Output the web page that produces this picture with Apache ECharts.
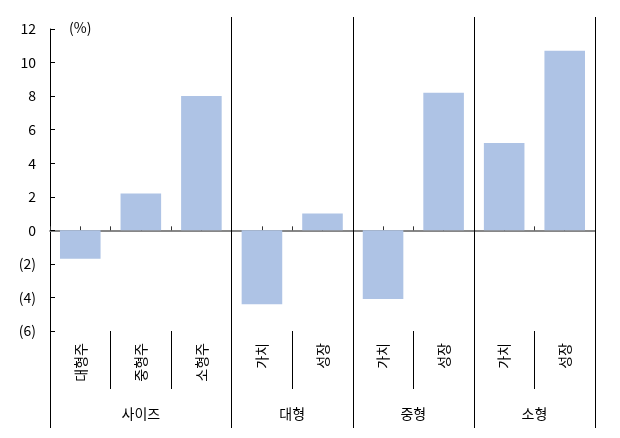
<!DOCTYPE html>
<html><head><meta charset="utf-8">
<script src="https://cdn.jsdelivr.net/npm/echarts@6/dist/echarts.min.js"></script>
<style>html,body{margin:0;padding:0;background:#fff}#c{width:620px;height:438px}</style>
</head><body><div id="c"></div>
<script>
const categories = ['대형주','중형주','소형주','가치','성장','가치','성장','가치','성장'];
const values = [-1.7, 2.2, 8.0, -4.4, 1.0, -4.1, 8.2, 5.2, 10.7];
const groupNames = ['사이즈','대형','중형','소형'];
const groupCenters = [1.5, 4, 6, 8];
const groupEdges = [3, 5, 7, 9];
const outerEdges = [0, 3, 5, 7, 9];
const yMin = -6, yMax = 12, yInterval = 2;
const unitLabel = '(%)';

const FONT = "'Noto Sans CJK KR','Noto Sans',sans-serif";
const chart = echarts.init(document.getElementById('c'), null, {renderer:'canvas'});
const hidden = {show:false};
chart.setOption({
  animation:false,
  backgroundColor:'#fff',
  title:{text:unitLabel,left:69,top:21,padding:0,textStyle:{fontSize:14,fontWeight:'normal',color:'#000',fontFamily:FONT}},
  grid:{left:50,right:25,top:29,bottom:107,containLabel:false},
  xAxis:[
    {type:'category',data:categories,position:'bottom',
     axisLine:{onZero:true,onZeroAxisIndex:0,lineStyle:{color:'#808080',width:1.5}},
     axisTick:{show:true,inside:true,length:4,interval:0,lineStyle:{color:'#333'}},
     axisLabel:hidden,splitLine:hidden},
    {type:'category',data:categories,position:'bottom',
     axisLine:{show:true,onZero:true,onZeroAxisIndex:1,lineStyle:{color:'#808080',width:1.5}},
     axisTick:{show:true,inside:true,length:4,interval:0,alignWithLabel:true,lineStyle:{color:'#333'}},
     axisLabel:hidden,splitLine:hidden},
    {type:'category',data:categories,position:'bottom',
     axisLine:{show:false,onZero:false},
     axisTick:{show:true,inside:false,length:58,interval:0,lineStyle:{color:'#000'}},
     axisLabel:{show:true,interval:0,rotate:90,margin:12,fontSize:14,color:'#000',fontFamily:FONT},
     splitLine:hidden},
    {type:'value',min:0,max:9,position:'bottom',
     axisLine:{show:false,onZero:false},
     axisTick:{show:true,inside:true,length:314,customValues:groupEdges,lineStyle:{color:'#000'}},
     axisLabel:{show:true,customValues:groupCenters,margin:76,fontSize:14,color:'#000',fontFamily:FONT,
       formatter:v=>{const i=groupCenters.indexOf(v);return i>=0?groupNames[i]:'';}},
     splitLine:hidden},
    {type:'value',min:0,max:9,position:'bottom',
     axisLine:{show:false,onZero:false},
     axisTick:{show:true,inside:false,length:97,customValues:outerEdges,lineStyle:{color:'#000'}},
     axisLabel:hidden,splitLine:hidden}
  ],
  yAxis:[
   {type:'value',min:yMin,max:yMax,interval:yInterval,position:'left',
    axisLine:{show:true,onZero:false,lineStyle:{color:'#000'}},
    axisTick:{show:true,inside:true,length:5,lineStyle:{color:'#000'}},
    axisLabel:{margin:14,fontSize:14,color:'#000',fontFamily:FONT,
      formatter:v=>v<0?'('+Math.abs(v)+')':String(v)},
    splitLine:hidden},
   {type:'value',min:yMin,max:yMax,interval:yInterval,position:'right',
    axisLine:{show:false,onZero:false},axisTick:hidden,axisLabel:hidden,splitLine:hidden}
  ],
  series:[{type:'bar',xAxisIndex:0,yAxisIndex:0,data:values,barWidth:'67%',
    itemStyle:{color:'#AEC3E5'}}]
});
</script></body></html>
